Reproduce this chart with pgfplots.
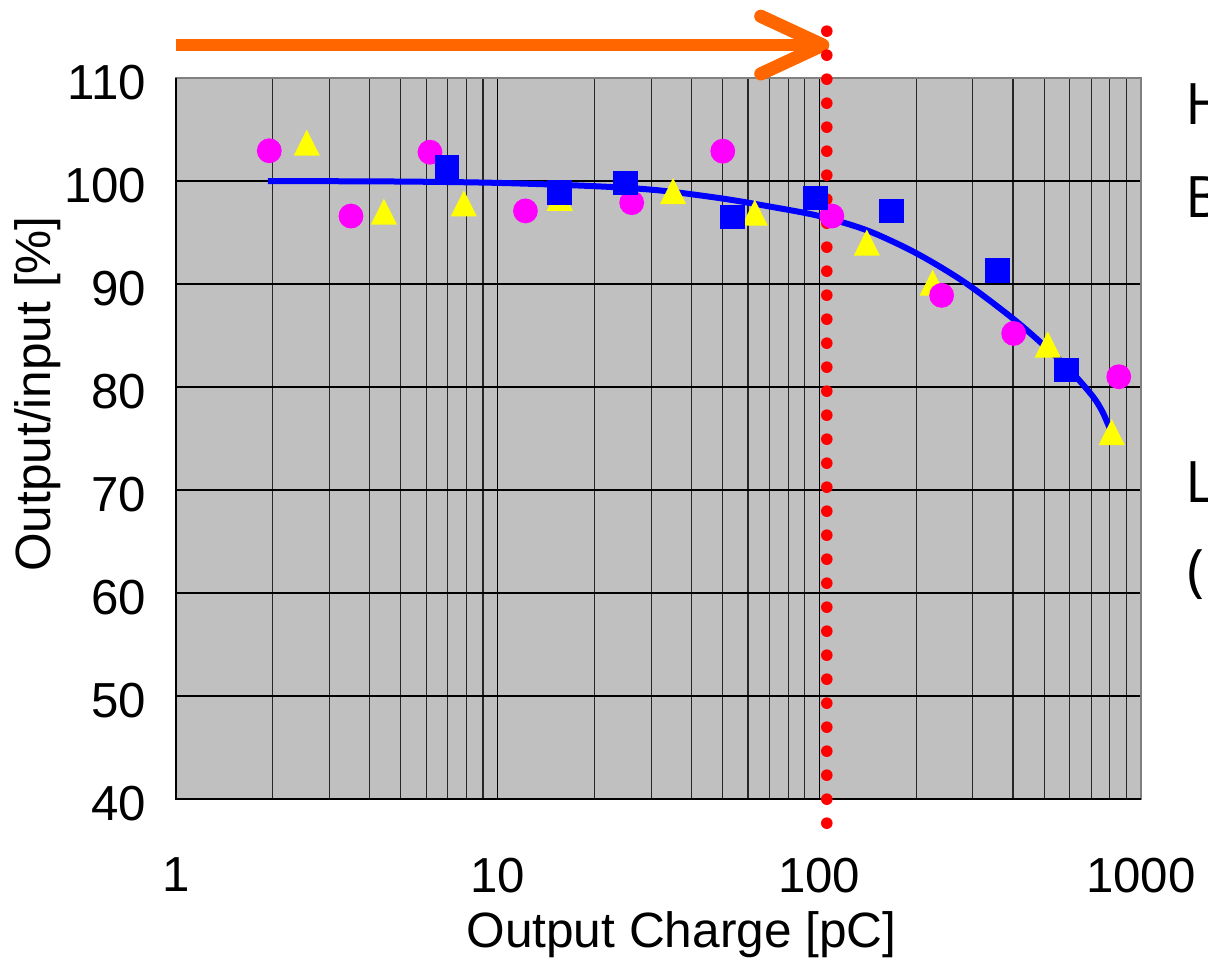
\documentclass[border=0pt]{standalone}
\usepackage{fontspec}
\setmainfont{Liberation Sans}
\newfontfamily\rfont{Open Sans}
\usepackage{pgfplots}
\pgfplotsset{compat=1.18}
\definecolor{plotgray}{HTML}{C0C0C0}
\definecolor{bordergray}{HTML}{808080}
\definecolor{arroworange}{HTML}{FF6600}
\definecolor{mkmagenta}{HTML}{FF00FF}
\definecolor{mkyellow}{HTML}{FFFF00}
\definecolor{mkblue}{HTML}{0000FF}
\definecolor{dotred}{HTML}{FF0000}
\begin{document}
\begin{tikzpicture}
\useasboundingbox (0,0) rectangle (302pt,239.5pt);
\begin{axis}[
  at={(44pt,39.75pt)}, anchor=south west,
  scale only axis, width=241.25pt, height=180.25pt,
  xmode=log, log basis x=10,
  xmin=1, xmax=1000, ymin=40, ymax=110,
  xtick={1,10,100,1000}, xticklabels={1,10,100,1000},
  minor xtick={2,3,4,5,6,7,8,9,20,30,40,50,60,70,80,90,200,300,400,500,600,700,800,900},
  ytick={40,50,60,70,80,90,100,110},
  grid=both,
  major grid style={black, line width=0.3pt},
  minor grid style={black!85, line width=0.3pt},
  minor y tick num=0,
  major tick length=0pt, minor tick length=0pt,
  axis background/.style={fill=plotgray},
  axis line style={draw=bordergray, line width=0.5pt},
  clip=false,
  tick label style={font=\fontsize{12.3}{14}\selectfont},
  /pgf/number format/assume math mode=true,
  yticklabel style={anchor=east, inner sep=0pt, xshift=-7.25pt, yshift=-1.2pt},
  xticklabel style={anchor=north, inner sep=0pt, yshift=-14.5pt},
  xlabel={Output Charge [pC]}, ylabel={Output/input [\%]},
  every axis x label/.style={at={(axis description cs:0.5238,-0.2053)}, anchor=base, font=\fontsize{12.4}{14}\selectfont},
  every axis y label/.style={at={(axis description cs:-0.1430,0.5617)}, rotate=90, anchor=center, font=\fontsize{12.4}{14}\selectfont},
]
% yellow triangles
\addplot[only marks, mark=triangle*, mark size=3.4pt, color=mkyellow,
  mark options={draw=none, fill=mkyellow, yscale=1.15}] coordinates {
  (2.55,103.3) (4.43,96.6) (7.85,97.4) (15.6,97.95) (35.1,98.6)
  (63.0,96.5) (140.5,93.6) (225,89.7) (513,83.7) (811,75.2)
};
% magenta circles
\addplot[only marks, mark=*, mark size=2.9pt, color=mkmagenta,
  mark options={draw=none, fill=mkmagenta}] coordinates {
  (1.95,102.94) (3.50,96.6) (6.16,102.8) (12.2,97.1) (26.1,97.9)
  (50.1,102.9) (109.4,96.6) (240,88.9) (402,85.2) (853,81.0)
};
% blue squares
\addplot[only marks, mark=square*, mark size=2.9pt, color=mkblue,
  mark options={draw=none, fill=mkblue}] coordinates {
  (6.96,101.3) (15.6,98.9) (25.0,99.8) (53.8,96.5) (97.5,98.35)
  (168,97.1) (359,91.3) (588,81.65)
};
% fitted curve
\addplot[mkblue, line width=1.5pt, smooth, tension=0.5, mark=none] coordinates {
  (1.93,100.0) (5,99.95) (10,99.82) (20,99.5) (31.6,99.1) (50,98.3)
  (70.8,97.5) (100,96.6) (141,95.2) (200,93.0) (282,90.2) (398,86.7)
  (501,84.0) (603,81.6) (708,79.1) (759,77.6) (804,75.8)
};
\draw[black, line width=0.4pt] (rel axis cs:0,1) -- (rel axis cs:0,0) -- (rel axis cs:1,0);
% orange arrow
\draw[arroworange, line width=3pt] (axis cs:1,113.2) -- ([xshift=-3pt]axis cs:105.5,113.2);
\draw[arroworange, line width=3.3pt, line cap=round, line join=round]
  ([xshift=-16.5pt,yshift=7.2pt]axis cs:105.5,113.2) -- ([xshift=-1pt]axis cs:105.5,113.2)
  -- ([xshift=-16.5pt,yshift=-7.2pt]axis cs:105.5,113.2);
% red dotted line
\draw[dotred, line width=2.9pt, line cap=round, dash pattern=on 0pt off 6pt]
  (axis cs:105.5,114.55) -- (axis cs:105.5,37.6);
\end{axis}
\node[anchor=base west, inner sep=0pt, font=\rfont\fontsize{14.3}{16}\selectfont] at (296.2pt,208.5pt) {H};
\node[anchor=base west, inner sep=0pt, font=\rfont\fontsize{14.3}{16}\selectfont] at (296.2pt,185.25pt) {B};
\node[anchor=base west, inner sep=0pt, font=\rfont\fontsize{14.3}{16}\selectfont] at (296.2pt,114pt) {L};
\node[anchor=base west, inner sep=0pt, font=\rfont\fontsize{14.3}{16}\selectfont] at (296.6pt,92pt) {(I};
\end{tikzpicture}
\end{document}
